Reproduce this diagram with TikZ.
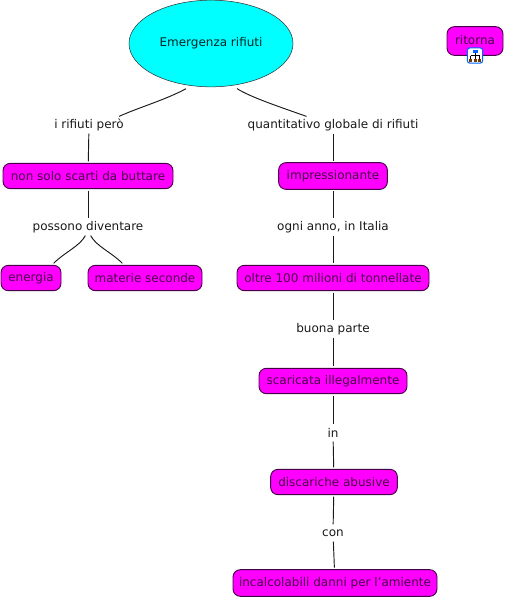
\documentclass[tikz,border=0pt]{standalone}
\usepackage{fontspec}
\setmainfont{DejaVu Sans}
\usetikzlibrary{shapes.geometric}
\definecolor{conceptfill}{RGB}{255,0,255}
\definecolor{conceptline}{RGB}{70,0,70}
\definecolor{topicfill}{RGB}{0,255,255}
\tikzset{
    concept/.style={draw=conceptline, fill=conceptfill, rounded corners=5.5pt, line width=0.7pt, inner xsep=0pt, inner ysep=0pt, minimum height=19pt, outer sep=1.5pt, font=\fontsize{9}{11}\selectfont, text=black!72!conceptfill},
    phrase/.style={inner sep=0pt, minimum height=12.5pt, font=\fontsize{9}{11}\selectfont, text=black!90},
    link/.style={line width=0.7pt, black!90}
}
\begin{document}
\begin{tikzpicture}[x=0.75pt,y=-0.75pt]
    \useasboundingbox (0,0) rectangle (506,600);
    % top of the map
    \node[ellipse, draw=black!80, fill=topicfill, minimum width=123pt, minimum height=65pt, inner sep=0pt, outer sep=3pt, font=\fontsize{9}{11}\selectfont, text=black!85!topicfill] (topic) at (211,43.5) {Emergenza rifiuti};
    % left branch
    \node[phrase] (peroLbl) at (89,125) {i rifiuti però};
    \node[concept, minimum width=127.5pt] (scarti) at (88,176) {non solo scarti da buttare};
    \node[phrase] (diventareLbl) at (88,227) {possono diventare};
    \node[concept, minimum width=45pt] (energia) at (31,278) {energia};
    \node[concept, minimum width=85.5pt] (materie) at (145,278) {materie seconde};
    % right branch
    \node[phrase] (globaleLbl) at (333,125) {quantitativo globale di rifiuti};
    \node[concept, minimum width=81.5pt, minimum height=20pt] (impress) at (333,176) {impressionante};
    \node[phrase] (annoLbl) at (333,227) {ogni anno, in Italia};
    \node[concept, minimum width=144pt] (oltre) at (333,278) {oltre 100 milioni di tonnellate};
    \node[phrase] (parteLbl) at (333,329) {buona parte};
    \node[concept, minimum width=111pt] (scaricata) at (333,381) {scaricata illegalmente};
    \node[phrase] (inLbl) at (333,433) {in};
    \node[concept, minimum width=95pt] (abusive) at (334,482) {discariche abusive};
    \node[phrase] (conLbl) at (333,533) {con};
    \node[concept, minimum width=153pt, minimum height=20pt] (danni) at (335,583) {incalcolabili danni per l'amiente};
    % return box with its small icon
    \node[concept, minimum width=42pt, minimum height=21.5pt, text depth=2.2pt] (ritorna) at (475,41) {ritorna};
    \node[draw=blue!60!cyan, fill=white, rounded corners=2pt, line width=0.8pt, minimum size=11.5pt, inner sep=0pt] (icon) at (475,55.5) {};
    \draw[black, line width=0.5pt] (475,52) -- (475,60) (470.5,55.5) -- (479.5,55.5) (470.5,55.5) -- (470.5,60) (479.5,55.5) -- (479.5,60);
    \fill[blue!60!cyan] (472.5,49.5) rectangle (477.5,53);
    \foreach \q in {470.5,475,479.5} {\fill[black!55!orange] (\q-1.5,59) rectangle (\q+1.5,62);}
    % connectors
    \foreach \a/\b in {peroLbl/scarti,scarti/diventareLbl,globaleLbl/impress,impress/annoLbl,annoLbl/oltre,oltre/parteLbl,parteLbl/scaricata,scaricata/inLbl,inLbl/abusive,abusive/conLbl,conLbl/danni} {\draw[link] (\a) -- (\b);}
    \draw[link] (topic.-119.5) .. controls (165,100) and (140,107) .. (peroLbl.16);
    \draw[link] (topic.-60.5) .. controls (250,97) and (280,107) .. (globaleLbl.162);
    \draw[link] (diventareLbl.-107) .. controls (80,246) and (65,252) .. (energia.33);
    \draw[link] (diventareLbl.-73) .. controls (96,246) and (111,252) .. (materie.147);
\end{tikzpicture}
\end{document}
